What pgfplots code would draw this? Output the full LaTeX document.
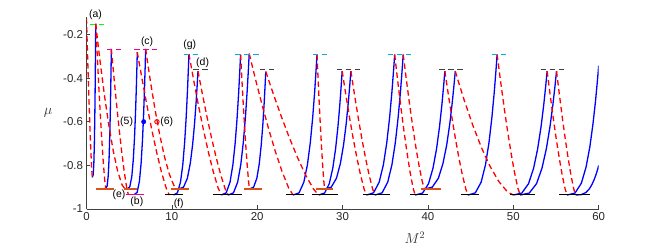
\documentclass[border=0pt]{standalone}
\usepackage{fontspec}
\setmainfont{Liberation Sans}
\usepackage{pgfplots}
\pgfplotsset{compat=1.18}
\definecolor{morange}{rgb}{0.85,0.325,0.098}
\pgfplotsset{
  blu/.style={color=blue, line width=1.3bp, no marks},
  rd/.style={color=red, line width=1.3bp, dash pattern=on 5.5bp off 3.5bp, no marks},
  topdash/.style={line width=1.3bp, dash pattern=on 5.5bp off 3.5bp, no marks},
  botline/.style={line width=1.3bp, no marks},
}
\begin{document}
\begin{tikzpicture}
\useasboundingbox (0,0) rectangle (661bp,248bp);
\begin{axis}[
  at={(86.5bp,39bp)}, anchor=south west,
  scale only axis, width=512.2bp, height=192bp,
  xmin=0, xmax=60, ymin=-1, ymax=-0.12,
  clip mode=individual,
  axis x line*=bottom, axis y line*=left,
  axis line style={draw=black!75, line width=0.6bp},
  xtick={0,10,20,30,40,50,60},
  ytick={-1,-0.8,-0.6,-0.4,-0.2},
  yticklabels={-1,-0.8,-0.6,-0.4,-0.2},
  tick align=inside, major tick length=4bp,
  tick style={black!75, line width=0.6bp},
  /pgf/number format/assume math mode=true,
  ticklabel style={font=\fontsize{11.5}{13}\selectfont, text=black!85},
  xlabel={$M^2$}, ylabel={$\mu$},
  xlabel style={at={(axis description cs:0.641,-0.151)}, anchor=center, font=\fontsize{14}{16}\selectfont, text=black!80},
  ylabel style={at={(axis description cs:-0.075,0.5)}, anchor=center, rotate=-90, font=\fontsize{14}{16}\selectfont, text=black!80},
]
% ---- blue curves (rising) ----
\addplot[blu] coordinates {(0.68,-0.855)(0.78,-0.844)(0.86,-0.791)(0.92,-0.703)(0.968,-0.592)(1.008,-0.467)(1.04,-0.342)(1.064,-0.232)(1.08,-0.151)};
\addplot[blu] coordinates {(2.25,-0.905)(2.415,-0.895)(2.547,-0.847)(2.646,-0.767)(2.725,-0.667)(2.791,-0.553)(2.844,-0.439)(2.884,-0.339)(2.91,-0.266)};
\addplot[blu] coordinates {(4.78,-0.908)(5.073,-0.898)(5.307,-0.851)(5.482,-0.773)(5.622,-0.674)(5.739,-0.563)(5.833,-0.451)(5.903,-0.353)(5.95,-0.281)};
\addplot[blu] coordinates {(5.6,-0.934)(5.933,-0.924)(6.199,-0.873)(6.398,-0.790)(6.558,-0.685)(6.691,-0.566)(6.797,-0.447)(6.877,-0.343)(6.93,-0.266)};
\addplot[blu] coordinates {(10.2,-0.936)(10.65,-0.926)(11.01,-0.877)(11.28,-0.797)(11.496,-0.695)(11.676,-0.580)(11.82,-0.465)(11.928,-0.364)(12.0,-0.29)};
\addplot[blu] coordinates {(10.8,-0.908)(11.365,-0.900)(11.817,-0.859)(12.156,-0.791)(12.427,-0.707)(12.653,-0.611)(12.834,-0.514)(12.97,-0.430)(13.06,-0.368)};
\addplot[blu] coordinates {(15.8,-0.936)(16.363,-0.926)(16.813,-0.877)(17.15,-0.797)(17.42,-0.696)(17.645,-0.581)(17.825,-0.467)(17.96,-0.366)(18.05,-0.292)};
\addplot[blu] coordinates {(16.6,-0.936)(17.215,-0.926)(17.707,-0.877)(18.076,-0.796)(18.371,-0.694)(18.617,-0.579)(18.814,-0.464)(18.962,-0.363)(19.06,-0.288)};
\addplot[blu] coordinates {(19.1,-0.908)(19.575,-0.900)(19.955,-0.859)(20.24,-0.792)(20.468,-0.707)(20.658,-0.612)(20.81,-0.516)(20.924,-0.432)(21.0,-0.37)};
\addplot[blu] coordinates {(24.2,-0.936)(24.9,-0.926)(25.46,-0.877)(25.88,-0.797)(26.216,-0.696)(26.496,-0.581)(26.72,-0.467)(26.888,-0.366)(27.0,-0.292)};
\addplot[blu] coordinates {(27.2,-0.936)(27.888,-0.927)(28.438,-0.884)(28.85,-0.813)(29.18,-0.724)(29.455,-0.623)(29.675,-0.522)(29.84,-0.433)(29.95,-0.368)};
\addplot[blu] coordinates {(27.9,-0.908)(28.668,-0.900)(29.282,-0.859)(29.742,-0.791)(30.11,-0.707)(30.417,-0.611)(30.663,-0.514)(30.847,-0.430)(30.97,-0.368)};
\addplot[blu] coordinates {(32.8,-0.936)(33.625,-0.926)(34.285,-0.877)(34.78,-0.797)(35.176,-0.696)(35.506,-0.581)(35.77,-0.467)(35.968,-0.366)(36.1,-0.292)};
\addplot[blu] coordinates {(33.8,-0.936)(34.625,-0.926)(35.285,-0.877)(35.78,-0.797)(36.176,-0.696)(36.506,-0.581)(36.77,-0.467)(36.968,-0.366)(37.1,-0.292)};
\addplot[blu] coordinates {(38.5,-0.936)(39.37,-0.927)(40.066,-0.884)(40.588,-0.813)(41.006,-0.724)(41.354,-0.623)(41.632,-0.522)(41.841,-0.433)(41.98,-0.368)};
\addplot[blu] coordinates {(39.6,-0.908)(40.5,-0.900)(41.22,-0.859)(41.76,-0.791)(42.192,-0.707)(42.552,-0.611)(42.84,-0.514)(43.056,-0.430)(43.2,-0.368)};
\addplot[blu] coordinates {(44.7,-0.936)(45.55,-0.926)(46.23,-0.877)(46.74,-0.797)(47.148,-0.696)(47.488,-0.581)(47.76,-0.467)(47.964,-0.366)(48.1,-0.292)};
\addplot[blu] coordinates {(50.0,-0.936)(50.99,-0.927)(51.782,-0.884)(52.376,-0.813)(52.851,-0.724)(53.247,-0.623)(53.564,-0.522)(53.802,-0.433)(53.96,-0.368)};
\addplot[blu] coordinates {(50.8,-0.936)(51.865,-0.927)(52.717,-0.884)(53.356,-0.813)(53.867,-0.724)(54.293,-0.623)(54.634,-0.522)(54.89,-0.433)(55.06,-0.368)};
\addplot[blu] coordinates {(56.3,-0.936)(57.225,-0.927)(57.965,-0.882)(58.52,-0.808)(58.964,-0.715)(59.334,-0.609)(59.63,-0.504)(59.852,-0.411)(60,-0.343)};
\addplot[blu] coordinates {(57.3,-0.936)(57.975,-0.934)(58.515,-0.924)(58.92,-0.907)(59.244,-0.885)(59.514,-0.861)(59.73,-0.837)(59.892,-0.816)(60,-0.80)};
% ---- red dashed curves (falling) ----
\addplot[rd] coordinates {(0,-0.125)(0.034,-0.172)(0.102,-0.264)(0.204,-0.396)(0.306,-0.519)(0.408,-0.633)(0.51,-0.735)(0.612,-0.819)(0.68,-0.855)};
\addplot[rd] coordinates {(1.08,-0.151)(1.139,-0.199)(1.256,-0.294)(1.431,-0.431)(1.607,-0.558)(1.782,-0.676)(1.958,-0.781)(2.133,-0.867)(2.25,-0.905)};
\addplot[rd] coordinates {(1.08,-0.151)(1.251,-0.211)(1.593,-0.324)(2.106,-0.480)(2.619,-0.617)(3.132,-0.733)(3.645,-0.826)(4.158,-0.889)(4.5,-0.908)};
\addplot[rd] coordinates {(2.91,-0.266)(3.01,-0.309)(3.209,-0.393)(3.507,-0.514)(3.806,-0.627)(4.104,-0.731)(4.403,-0.824)(4.701,-0.901)(4.9,-0.934)};
\addplot[rd] coordinates {(5.95,-0.281)(6.138,-0.323)(6.513,-0.405)(7.075,-0.524)(7.638,-0.635)(8.2,-0.737)(8.763,-0.828)(9.325,-0.903)(9.7,-0.936)};
\addplot[rd] coordinates {(6.93,-0.266)(7.114,-0.317)(7.481,-0.413)(8.031,-0.545)(8.582,-0.661)(9.132,-0.760)(9.683,-0.838)(10.233,-0.892)(10.6,-0.908)};
\addplot[rd] coordinates {(12.0,-0.29)(12.19,-0.331)(12.57,-0.413)(13.14,-0.530)(13.71,-0.639)(14.28,-0.740)(14.85,-0.829)(15.42,-0.904)(15.8,-0.936)};
\addplot[rd] coordinates {(13.06,-0.368)(13.237,-0.404)(13.591,-0.476)(14.122,-0.579)(14.653,-0.675)(15.184,-0.763)(15.715,-0.842)(16.246,-0.908)(16.6,-0.936)};
\addplot[rd] coordinates {(18.05,-0.292)(18.103,-0.331)(18.208,-0.409)(18.365,-0.521)(18.523,-0.625)(18.68,-0.721)(18.838,-0.806)(18.995,-0.877)(19.1,-0.908)};
\addplot[rd] coordinates {(19.06,-0.288)(19.317,-0.329)(19.831,-0.411)(20.602,-0.528)(21.373,-0.638)(22.144,-0.739)(22.915,-0.829)(23.686,-0.904)(24.2,-0.936)};
\addplot[rd] coordinates {(21.0,-0.37)(21.31,-0.406)(21.93,-0.478)(22.86,-0.580)(23.79,-0.676)(24.72,-0.764)(25.65,-0.843)(26.58,-0.908)(27.2,-0.936)};
\addplot[rd] coordinates {(27.0,-0.292)(27.045,-0.331)(27.135,-0.409)(27.27,-0.521)(27.405,-0.625)(27.54,-0.721)(27.675,-0.806)(27.81,-0.877)(27.9,-0.908)};
\addplot[rd] coordinates {(29.95,-0.368)(30.093,-0.404)(30.378,-0.476)(30.805,-0.579)(31.233,-0.675)(31.66,-0.763)(32.088,-0.842)(32.515,-0.908)(32.8,-0.936)};
\addplot[rd] coordinates {(30.97,-0.368)(31.112,-0.404)(31.395,-0.476)(31.819,-0.579)(32.244,-0.675)(32.668,-0.763)(33.093,-0.842)(33.517,-0.908)(33.8,-0.936)};
\addplot[rd] coordinates {(36.1,-0.292)(36.22,-0.333)(36.46,-0.414)(36.82,-0.531)(37.18,-0.640)(37.54,-0.740)(37.9,-0.830)(38.26,-0.904)(38.5,-0.936)};
\addplot[rd] coordinates {(37.1,-0.292)(37.225,-0.331)(37.475,-0.409)(37.85,-0.521)(38.225,-0.625)(38.6,-0.721)(38.975,-0.806)(39.35,-0.877)(39.6,-0.908)};
\addplot[rd] coordinates {(41.98,-0.368)(42.116,-0.404)(42.388,-0.476)(42.796,-0.579)(43.204,-0.675)(43.612,-0.763)(44.02,-0.842)(44.428,-0.908)(44.7,-0.936)};
\addplot[rd] coordinates {(43.2,-0.368)(43.54,-0.413)(44.22,-0.498)(45.24,-0.615)(46.26,-0.718)(47.28,-0.805)(48.3,-0.874)(49.32,-0.922)(50.0,-0.936)};
\addplot[rd] coordinates {(48.1,-0.292)(48.235,-0.333)(48.505,-0.414)(48.91,-0.531)(49.315,-0.640)(49.72,-0.740)(50.125,-0.830)(50.53,-0.904)(50.8,-0.936)};
\addplot[rd] coordinates {(53.96,-0.368)(54.077,-0.404)(54.311,-0.476)(54.662,-0.579)(55.013,-0.675)(55.364,-0.763)(55.715,-0.842)(56.066,-0.908)(56.3,-0.936)};
\addplot[rd] coordinates {(55.06,-0.368)(55.172,-0.404)(55.396,-0.476)(55.732,-0.579)(56.068,-0.675)(56.404,-0.763)(56.74,-0.842)(57.076,-0.908)(57.3,-0.936)};
% ---- top dashed markers ----
\addplot[topdash, color=green] coordinates {(0.4,-0.153)(2.2,-0.153)};
\addplot[topdash, color=magenta] coordinates {(2.4,-0.268)(4.3,-0.268)};
\addplot[topdash, color=magenta] coordinates {(5.6,-0.268)(8.3,-0.268)};
\addplot[topdash, color=cyan] coordinates {(11.4,-0.292)(13.2,-0.292)};
\addplot[topdash, color=cyan] coordinates {(17.4,-0.292)(20.2,-0.292)};
\addplot[topdash, color=cyan] coordinates {(26.5,-0.292)(28.3,-0.292)};
\addplot[topdash, color=cyan] coordinates {(35.3,-0.292)(38.2,-0.292)};
\addplot[topdash, color=cyan] coordinates {(47.5,-0.292)(49.2,-0.292)};
\addplot[topdash, color=black!75] coordinates {(12.5,-0.36)(14.3,-0.36)};
\addplot[topdash, color=black!75] coordinates {(20.3,-0.36)(22.1,-0.36)};
\addplot[topdash, color=black!75] coordinates {(29.3,-0.36)(32.3,-0.36)};
\addplot[topdash, color=black!75] coordinates {(41.3,-0.36)(44.1,-0.36)};
\addplot[topdash, color=black!75] coordinates {(53.2,-0.36)(56.0,-0.36)};
% ---- bottom solid markers ----
\addplot[botline, color=morange] coordinates {(1.1,-0.909)(3.2,-0.909)};
\addplot[botline, color=morange] coordinates {(4.4,-0.909)(5.95,-0.909)};
\addplot[botline, color=magenta] coordinates {(4.6,-0.934)(6.7,-0.934)};
\addplot[botline, color=black] coordinates {(9.2,-0.935)(11.3,-0.935)};
\addplot[botline, color=morange] coordinates {(9.9,-0.909)(12.0,-0.909)};
\addplot[botline, color=black] coordinates {(14.85,-0.935)(18.2,-0.935)};
\addplot[botline, color=morange] coordinates {(18.4,-0.909)(20.5,-0.909)};
\addplot[botline, color=black] coordinates {(23.4,-0.935)(25.5,-0.935)};
\addplot[botline, color=black] coordinates {(26.4,-0.935)(29.5,-0.935)};
\addplot[botline, color=morange] coordinates {(26.9,-0.909)(28.9,-0.909)};
\addplot[botline, color=black] coordinates {(32.4,-0.935)(35.5,-0.935)};
\addplot[botline, color=black] coordinates {(37.9,-0.935)(40.0,-0.935)};
\addplot[botline, color=morange] coordinates {(39.2,-0.909)(41.5,-0.909)};
\addplot[botline, color=black] coordinates {(43.9,-0.935)(46.0,-0.935)};
\addplot[botline, color=black] coordinates {(49.6,-0.935)(52.5,-0.935)};
\addplot[botline, color=black] coordinates {(55.4,-0.935)(59.0,-0.935)};
% ---- points ----
\addplot[only marks, mark=*, mark size=2.2bp, color=blue] coordinates {(6.7,-0.6)};
\addplot[only marks, mark=o, mark size=2.2bp, color=red, line width=0.9bp] coordinates {(8.25,-0.6)};
% ---- labels ----
\node[font=\fontsize{10.5}{12}\selectfont] at (axis cs:1.05,-0.11) {(a)};
\node[font=\fontsize{10.5}{12}\selectfont] at (axis cs:7.1,-0.235) {(c)};
\node[font=\fontsize{10.5}{12}\selectfont] at (axis cs:12.1,-0.246) {(g)};
\node[font=\fontsize{10.5}{12}\selectfont] at (axis cs:13.6,-0.33) {(d)};
\node[font=\fontsize{10.5}{12}\selectfont] at (axis cs:4.7,-0.6) {(5)};
\node[font=\fontsize{10.5}{12}\selectfont] at (axis cs:9.4,-0.6) {(6)};
\node[font=\fontsize{10.5}{12}\selectfont] at (axis cs:3.8,-0.934) {(e)};
\node[font=\fontsize{10.5}{12}\selectfont] at (axis cs:5.9,-0.965) {(b)};
\node[font=\fontsize{10.5}{12}\selectfont] at (axis cs:10.8,-0.974) {(f)};
\end{axis}
\end{tikzpicture}
\end{document}
